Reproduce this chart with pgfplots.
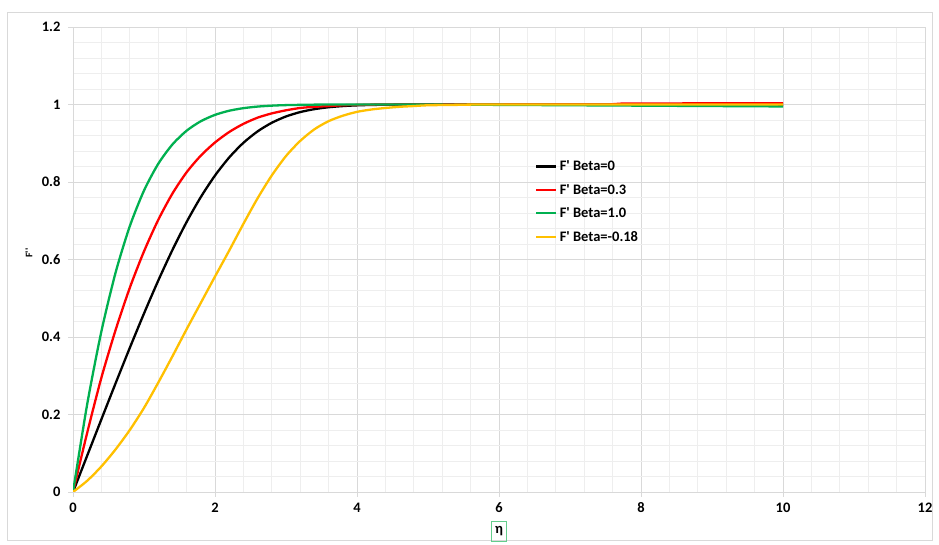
\documentclass[border=0pt]{standalone}
\usepackage{pgfplots}
\pgfplotsset{compat=1.18}
\usepackage{fontspec}
\setmainfont{Carlito}
\setmonofont{Carlito}
\definecolor{majgrid}{RGB}{217,217,217}
\definecolor{mingrid}{RGB}{238,238,238}
\definecolor{cred}{RGB}{255,0,0}
\definecolor{cgreen}{RGB}{0,176,80}
\definecolor{cyellow}{RGB}{255,192,0}
\definecolor{cblack}{RGB}{0,0,0}
\definecolor{boxgreen}{RGB}{100,205,140}
\definecolor{framegray}{RGB}{217,217,217}

\begin{document}
\begin{tikzpicture}[x=1pt,y=1pt]
\useasboundingbox (0,0) rectangle (939,545);
\fill[white] (0,0) rectangle (939,545);
\draw[framegray, line width=0.75pt] (7,5) rectangle (932,533);
\begin{axis}[
  at={(73pt,53pt)}, anchor=south west,
  scale only axis, width=852pt, height=465pt,
  xmin=0, xmax=12, ymin=0, ymax=1.2,
  xtick={0,2,...,12}, ytick={0,0.2,...,1.2},
  minor x tick num=4, minor y tick num=4,
  grid=both,
  major grid style={color=majgrid, line width=0.8pt},
  minor grid style={color=mingrid, line width=0.8pt},
  axis x line*=bottom, axis y line*=left,
  axis line style={color=majgrid, line width=0.8pt},
  tick align=outside, major tick length=5pt, minor tick length=0pt,
  tick style={color=majgrid, line width=0.8pt},
  /pgf/number format/assume math mode=true,
  ticklabel style={font=\bfseries\fontsize{14.5}{17}\selectfont},
  xticklabel style={anchor=base, yshift=-16pt},
  yticklabel style={anchor=east, xshift=-4pt},
  legend cell align=left,
  legend style={at={(0.542,0.718)}, anchor=north west, draw=none, fill=none,
    inner sep=0pt, row sep=7pt,
    nodes={inner sep=2.5pt},
    font=\ttfamily\bfseries\fontsize{14.5}{17}\selectfont},
  legend image code/.code={\draw[#1] (0pt,0pt) -- (20pt,0pt);},
  every axis plot/.append style={smooth, tension=0.45, line width=2.3pt},
]
\addplot[cblack] coordinates {
(0,0) (0.2,0.0939) (0.4,0.1876) (0.6,0.2806) (0.8,0.3720) (1.0,0.4606)
(1.2,0.5453) (1.4,0.6244) (1.6,0.6967) (1.8,0.7611) (2.0,0.8167) (2.2,0.8633)
(2.4,0.9011) (2.6,0.9306) (2.8,0.9529) (3.0,0.9691) (3.2,0.9804) (3.4,0.9880)
(3.6,0.9929) (3.8,0.9959) (4.0,0.9978) (4.2,0.9988) (4.4,0.9994) (4.6,0.9997)
(4.8,0.9999) (5.0,1.0) (6,1.0) (7,1.0) (8,1.0) (9,0.9995) (10,0.999)};
\addlegendentry{F' Beta=0}
\addplot[cred] coordinates {
(0,0) (0.2,0.153) (0.4,0.295) (0.6,0.418) (0.8,0.527) (1.0,0.621)
(1.2,0.702) (1.4,0.770) (1.6,0.825) (1.8,0.868) (2.0,0.902) (2.2,0.929)
(2.4,0.950) (2.6,0.966) (2.8,0.977) (3.0,0.985) (3.2,0.991) (3.4,0.994)
(3.6,0.996) (3.8,0.998) (4.0,0.999) (4.6,1.0) (7.6,1.0) (7.8,1.0025) (10,1.003)};
\addlegendentry{F' Beta=0.3}
\addplot[cgreen] coordinates {
(0,0) (0.2,0.2266) (0.4,0.4145) (0.6,0.5663) (0.8,0.6859) (1.0,0.7779)
(1.2,0.8467) (1.4,0.8968) (1.6,0.9323) (1.8,0.9568) (2.0,0.9732) (2.2,0.9839)
(2.4,0.9905) (2.6,0.9946) (2.8,0.9970) (3.0,0.9984) (3.4,0.9996) (3.8,0.9999)
(4.5,1.0) (6,0.999) (8,0.997) (10,0.995)};
\addlegendentry{F' Beta=1.0}
\addplot[cyellow] coordinates {
(0,0) (0.2,0.029) (0.4,0.066) (0.6,0.110) (0.8,0.160) (1.0,0.217)
(1.2,0.282) (1.4,0.350) (1.6,0.420) (1.8,0.488) (2.0,0.556) (2.2,0.623)
(2.4,0.692) (2.6,0.758) (2.8,0.817) (3.0,0.867) (3.2,0.906) (3.4,0.936)
(3.6,0.957) (3.8,0.971) (4.0,0.981) (4.2,0.987) (4.4,0.991) (4.6,0.994)
(4.8,0.996) (5.0,0.998) (5.4,0.999) (6,1.0) (10,1.0)};
\addlegendentry{F' Beta=-0.18}
\end{axis}
\node[rotate=90, font=\ttfamily\bfseries\fontsize{10}{12}\selectfont] at (29,292) {F''};
\node[draw=boxgreen, line width=0.9pt, minimum width=14.5pt, minimum height=20pt, inner sep=1pt,
  font=\bfseries\fontsize{14.5}{17}\selectfont] at (499,13.5) {η};
\end{tikzpicture}
\end{document}
